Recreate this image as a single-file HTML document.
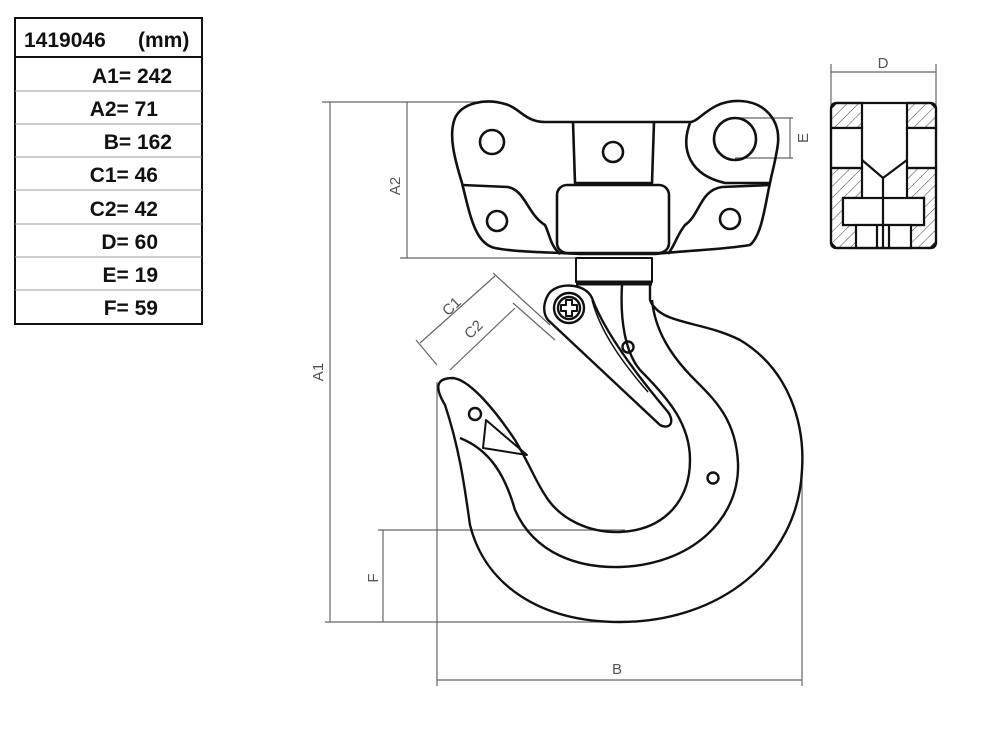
<!DOCTYPE html>
<html><head><style>
body{margin:0;background:#fff;}
</style></head><body>
<svg width="1000" height="744" viewBox="0 0 1000 744" xmlns="http://www.w3.org/2000/svg">
<defs>
<pattern id="h" width="8" height="8" patternUnits="userSpaceOnUse" patternTransform="rotate(45)">
<line x1="0" y1="0" x2="0" y2="8" stroke="#444" stroke-width="1"/></pattern>
</defs>
<!-- table -->
<g font-family="Liberation Sans, sans-serif" font-weight="bold" font-size="21" fill="#111">
<rect x="15" y="18" width="187" height="306" fill="none" stroke="#111" stroke-width="2"/>
<line x1="15" y1="57" x2="202" y2="57" stroke="#111" stroke-width="2"/>
<g stroke="#999" stroke-width="1">
<line x1="15" y1="91" x2="202" y2="91"/><line x1="15" y1="124" x2="202" y2="124"/>
<line x1="15" y1="157" x2="202" y2="157"/><line x1="15" y1="190" x2="202" y2="190"/>
<line x1="15" y1="224" x2="202" y2="224"/><line x1="15" y1="257" x2="202" y2="257"/>
<line x1="15" y1="290" x2="202" y2="290"/></g>
<text x="24" y="47">1419046</text>
<text x="138" y="47">(mm)</text>
<text x="172" y="83" text-anchor="end">A1= 242</text>
<text x="158" y="116" text-anchor="end">A2= 71</text>
<text x="172" y="149" text-anchor="end">B= 162</text>
<text x="158" y="182" text-anchor="end">C1= 46</text>
<text x="158" y="216" text-anchor="end">C2= 42</text>
<text x="158" y="249" text-anchor="end">D= 60</text>
<text x="158" y="282" text-anchor="end">E= 19</text>
<text x="158" y="315" text-anchor="end">F= 59</text>
</g>
<!-- dimension lines -->
<g stroke="#666" stroke-width="1.2" fill="none">
<line x1="322" y1="102" x2="497" y2="102"/>
<line x1="325" y1="622" x2="622" y2="622"/>
<line x1="330" y1="102" x2="330" y2="622"/>
<line x1="400" y1="258" x2="578" y2="258"/>
<line x1="407" y1="102" x2="407" y2="258"/>
<line x1="378" y1="530" x2="625" y2="530"/>
<line x1="383" y1="530" x2="383" y2="622"/>
<line x1="437" y1="382" x2="437" y2="686"/>
<line x1="802" y1="470" x2="802" y2="686"/>
<line x1="437" y1="680" x2="802" y2="680"/>
<line x1="493" y1="273" x2="550" y2="325"/>
<line x1="420" y1="343" x2="495" y2="276"/>
<line x1="416" y1="340" x2="437" y2="365"/>
<line x1="513" y1="303" x2="555" y2="340"/>
<line x1="450" y1="370" x2="515" y2="308"/>
<line x1="735" y1="118" x2="793" y2="118"/>
<line x1="735" y1="158" x2="793" y2="158"/>
<line x1="790" y1="118" x2="790" y2="158"/>
<line x1="831" y1="64" x2="831" y2="105"/>
<line x1="936" y1="64" x2="936" y2="105"/>
<line x1="831" y1="72" x2="936" y2="72"/>
</g>
<g font-family="Liberation Sans, sans-serif" font-size="15" fill="#555">
<text x="323" y="372" transform="rotate(-90 323 372)" text-anchor="middle">A1</text>
<text x="400" y="186" transform="rotate(-90 400 186)" text-anchor="middle">A2</text>
<text x="378" y="578" transform="rotate(-90 378 578)" text-anchor="middle">F</text>
<text x="617" y="674" text-anchor="middle">B</text>
<text x="883" y="68" text-anchor="middle">D</text>
<text x="808" y="138" transform="rotate(-90 808 138)" text-anchor="middle">E</text>
<text x="455" y="310" transform="rotate(-44 455 310)" text-anchor="middle">C1</text>
<text x="477" y="333" transform="rotate(-44 477 333)" text-anchor="middle">C2</text>
</g>
<!-- top plate -->
<g stroke="#111" stroke-width="2.6" fill="none" stroke-linejoin="round">
<path d="M462,183 C455,160 448,135 455,118 C462,103 485,98 505,104 C520,108 525,122 545,122 L690,122 C700,122 710,100 740,101 C765,102 780,120 778,143 C776,160 772,172 770,183 C765,205 762,235 750,245 C720,250 690,250 655,254 L580,254 C545,252 515,252 495,248 C475,244 470,215 462,183 Z"/>
<path d="M573,122 L575,183 L652,183 L654,122"/>
<path d="M462,185 L508,187 C525,190 528,215 545,225 C550,235 550,245 560,254"/>
<path d="M770,185 L722,187 C700,190 700,215 685,225 C677,235 675,245 668,254"/>
<path d="M690,123 C680,150 690,175 725,183 L770,183"/>
<rect x="557" y="185" width="112" height="68" rx="10"/>
<circle cx="492" cy="142" r="12"/>
<circle cx="613" cy="152" r="10"/>
<circle cx="735" cy="139" r="21"/>
<circle cx="497" cy="221" r="10"/>
<circle cx="730" cy="219" r="10"/>
<rect x="576" y="258" width="76" height="24" stroke-width="2"/>
<line x1="576" y1="283" x2="652" y2="283" stroke-width="5"/>
</g>
<!-- hook -->
<g stroke="#111" stroke-width="2.4" fill="none" stroke-linejoin="round">
<path d="M650,285 L650,300 C660,325 700,320 740,340 C790,370 805,425 802,470 C798,560 720,622 620,622 C540,622 485,585 470,525 C465,490 460,450 445,405 C433,385 438,378 453,378 C470,380 495,410 515,440 C530,465 535,480 545,495 C560,520 590,533 620,532 C665,530 690,500 690,460 C690,425 670,400 640,370 C625,352 620,320 622,285"/>
<path d="M460,438 C490,450 505,475 515,510 C535,555 580,568 620,567 C690,565 740,520 738,463 C736,420 715,400 695,380 C670,355 655,330 652,300"/>
<path d="M486,420 L483,448 L527,455 Z" stroke-width="2"/>
<circle cx="475" cy="414" r="6"/>
<circle cx="628" cy="347" r="5.5"/>
<circle cx="713" cy="478" r="5.5"/>
<!-- latch -->
<path d="M548,295 C555,282 585,282 592,298 C600,320 620,355 668,412 C675,422 670,430 660,425 L548,320 C542,312 544,302 548,295 Z" fill="#fff"/>
<path d="M592,300 C600,330 620,360 648,392" stroke-width="1.5"/>
<circle cx="569" cy="308" r="15" fill="#fff"/>
<circle cx="569" cy="308" r="11"/>
<path d="M566,300 h6 v5 h5 v6 h-5 v5 h-6 v-5 h-5 v-6 h5 z" stroke-width="2"/>
</g>
<!-- side view -->
<g stroke="#111" stroke-width="2.2">
<path d="M836,103 L862,103 L862,128 L831,128 L831,108 Z" fill="url(#h)"/>
<path d="M907,103 L931,103 L936,108 L936,128 L907,128 Z" fill="url(#h)"/>
<rect x="831" y="128" width="31" height="40" fill="#fff"/>
<rect x="907" y="128" width="29" height="40" fill="#fff"/>
<path d="M831,168 L862,168 L862,198 L843,198 L843,225 L924,225 L924,198 L907,198 L907,168 L936,168 L936,243 L931,248 L836,248 L831,243 Z" fill="url(#h)"/>
<rect x="843" y="198" width="81" height="27" fill="#fff"/>
<rect x="856" y="225" width="55" height="23" fill="#fff"/>
<path d="M862,160 L883,178 L907,160 M883,178 L883,248 M877,225 L877,248 M889,225 L889,248" fill="none"/>
<rect x="831" y="103" width="105" height="145" rx="5" fill="none"/>
</g>
</svg>
</body></html>
